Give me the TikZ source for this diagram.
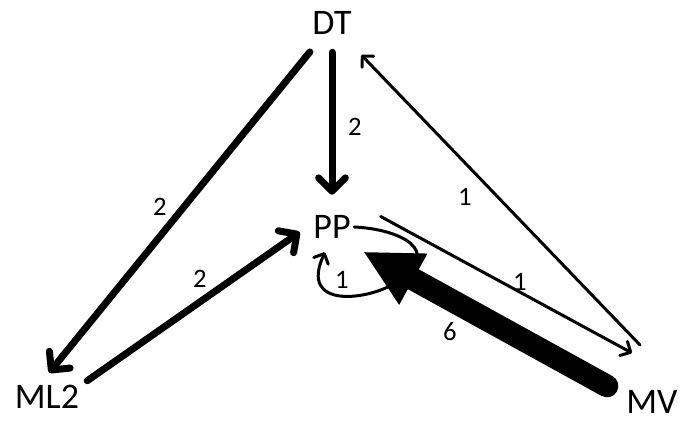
\documentclass[tikz,border=0pt]{standalone}
\usepackage{fontspec}
\setmainfont{Carlito}
\usetikzlibrary{arrows.meta}

\begin{document}
\begin{tikzpicture}[x=0.75pt, y=-0.75pt,
      state/.style = {inner sep=0pt, font=\fontsize{27}{30}\selectfont},
      wt/.style    = {inner sep=0pt, font=\fontsize{20}{24}\selectfont},
      heavy/.style = {line width=5.25pt, line cap=round, -{Straight Barb[round, length=10pt, width=20pt]}},
      light/.style = {line width=2.25pt, line cap=round, -{Straight Barb[round, length=6pt, width=12pt]}},
      huge/.style  = {line width=17pt, line cap=round, -{Triangle[length=42pt, width=44pt, line width=0pt]}} ]
    \useasboundingbox (0,0) rectangle (683,423);

    \node[state, minimum width=48pt, minimum height=34.5pt] (dt)  at (332,23)  {DT};
    \node[state, minimum width=48pt, minimum height=48pt]   (pp)  at (332,227) {PP};
    \node[state, minimum width=60pt, minimum height=36pt]   (ml2) at (47,397)  {ML2};
    \node[state, inner sep=2pt]                             (mv)  at (652,402) {MV};

    \draw[heavy, shorten <=5.5pt] (dt.-127) -- (ml2.85);
    \draw[heavy, shorten <=4.5pt] (dt.south) -- (pp.north);
    \draw[heavy] (ml2.22) -- (pp.-171);
    \draw[light, shorten >=9pt] ([shift={(-12,-57)}]mv.center) -- (dt.-48);
    \draw[light, shorten <=14pt] (pp.31) -- ([shift={(-20,-49)}]mv.center);
    % self loop on PP
    \draw[light] ([xshift=-7.5pt]pp.east) .. controls (398,229) and (447,250) .. (395,283)
                 .. controls (369,300) and (298,310) .. ([shift={(-5.25pt,5.25pt)}]pp.south);
    \draw[huge] ([shift={(-45,-16)}]mv.center) -- (pp.-38);

    \node[wt] (w1) at (160,207) {2};
    \node[wt] (w2) at (355,127) {2};
    \node[wt] (w3) at (200,279) {2};
    \node[wt] (w4) at (465,197) {1};
    \node[wt] (w5) at (520,282) {1};
    \node[wt] (w6) at (342,280) {1};
    \node[wt] (w7) at (450,332) {6};
  \end{tikzpicture}
\end{document}
